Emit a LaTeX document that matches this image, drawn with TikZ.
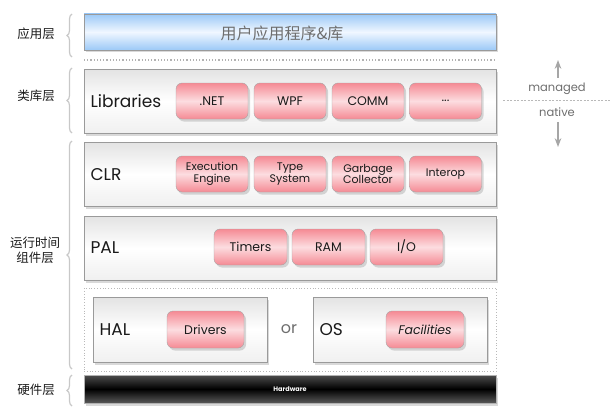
\documentclass[tikz,border=0pt]{standalone}
\usepackage{fontspec}
\setmainfont{Poppins}
\newfontfamily\cjk{Noto Sans CJK SC}
\usetikzlibrary{arrows.meta,positioning,shadows,decorations.pathreplacing,calc}
\definecolor{txt}{HTML}{1A1A1A}
\definecolor{txt2}{HTML}{6E6E6E}
\definecolor{edge}{HTML}{9A9A9A}
\definecolor{pinkA}{HTML}{F58A94}
\definecolor{pinkB}{HTML}{FCDDE0}
\definecolor{blueA}{HTML}{9CC9F7}
\definecolor{blueB}{HTML}{F0F7FF}
\definecolor{bracegray}{HTML}{C8C8C8}

\begin{document}
\begin{tikzpicture}[
  x=1pt, y=-1pt,
  >=Stealth,
  shd/.style={drop shadow={opacity=0.3, shadow xshift=2pt, shadow yshift=-2.5pt}},
  layer/.style={draw=edge, line width=0.8pt, shd, top color=gray!22, bottom color=gray!12, middle color=white, minimum width=412pt, minimum height=64pt, inner sep=0pt},
  pill/.style={draw=gray!70, rounded corners=6pt, shd, top color=pinkA, bottom color=pinkA, middle color=pinkB, minimum width=72pt, minimum height=36pt, align=center, inner sep=1pt, text=txt, font=\fontsize{12.5}{14}\selectfont},
  pill2/.style={pill, font=\fontsize{11}{11.5}\selectfont},
  laytxt/.style={anchor=west, text=txt, font=\fontsize{17}{20}\selectfont},
  zh/.style={text=txt, align=center, font=\cjk\fontsize{12.5}{15}\selectfont},
  brc/.style={draw=bracegray, line width=1.2pt, decorate, decoration={brace, amplitude=5pt}},
  lbl/.style={text=txt2, font=\fontsize{11.5}{13}\selectfont},
  arr/.style={->, line width=1.3pt, color=gray!70},
]
\useasboundingbox (0,0) rectangle (610,412);

% application layer
\node[layer, minimum height=36pt, top color=blueA, bottom color=blueA, middle color=blueB] (app) at (290,32) {};
\node[text=txt2, font=\cjk\fontsize{16}{18}\selectfont] (apptxt) at (282,33) {用户应用程序\&库};
\coordinate (sepL) at (84,60);
\coordinate (sepR) at (494,60);
\draw[gray!60, dotted, line width=1.2pt] (sepL) -- (sepR);

% libraries
\node[layer] (lib) at (290,101) {};
\node[laytxt] (libname) at (87,101) {Libraries};
\node[pill] (net) at (212,101) {.NET};
\node[pill] (wpf) at (290,101) {WPF};
\node[pill] (comm) at (368,101) {COMM};
\node[pill] (more) at (445.5,101) {...};

% clr
\node[layer] (clr) at (290,174) {};
\node[laytxt] (clrname) at (87,175) {CLR};
\node[pill2] (exec) at (212,174) {Execution\\Engine};
\node[pill2] (type) at (290,174) {Type\\System};
\node[pill2] (gc) at (368,174) {Garbage\\Collector};
\node[pill2] (interop) at (445.5,174) {Interop};

% pal
\node[layer] (pal) at (290,248) {};
\node[laytxt] (palname) at (87,248) {PAL};
\node[pill, minimum width=73pt] (timers) at (250.5,247) {Timers};
\node[pill, minimum width=73pt] (ram) at (328.5,247) {RAM};
\node[pill, minimum width=73pt] (io) at (406.5,247) {I/O};

% hal or os
\node[draw=gray!55, dotted, line width=0.8pt, minimum width=412pt, minimum height=83pt, inner sep=0pt] (port) at (290,329.5) {};
\node[layer, minimum width=174pt, minimum height=65pt] (hal) at (180,329.5) {};
\node[laytxt] (halname) at (96,330) {HAL};
\node[pill, minimum width=77pt, minimum height=37pt] (drivers) at (205.5,329.5) {Drivers};
\node[text=txt2, font=\fontsize{16}{18}\selectfont] (or) at (289,329) {or};
\node[layer, minimum width=174pt, minimum height=65pt] (os) at (400,329.5) {};
\node[laytxt] (osname) at (316,330) {OS};
\node[pill, minimum width=78pt, minimum height=37pt, font=\fontsize{12.5}{14}\selectfont\itshape] (fac) at (425,329.5) {Facilities};

% hardware
\node[draw=gray!60, shd, minimum width=412pt, minimum height=28pt, inner sep=0pt, top color=black!70, bottom color=black!65, middle color=black, text=white, font=\fontsize{6.5}{7}\selectfont\bfseries] (hw) at (290,389) {Hardware};

% layer names
\node[zh] (zhapp) at (36,34) {应用层};
\node[zh] (zhlib) at (36,96) {类库层};
\node[zh] (zhrun) at (35,250) {运行时间\\组件层};
\node[zh] (zhhw) at (36,390) {硬件层};
\draw[brc] (72,57) -- (72,14);
\draw[brc] (72,133) -- (72,68);
\draw[brc] (72,369) -- (72,141);
\draw[brc] (72,406) -- (72,375);

% managed / native
\node[lbl] (managed) at (557,89) {managed};
\node[lbl] (native) at (557,112) {native};
\coordinate (mnL) at (503,100);
\coordinate (mnR) at (610,100);
\draw[gray!55, dashed, line width=0.6pt, dash pattern=on 2pt off 1.5pt] (mnL) -- (mnR);
\coordinate (upTip) at (558,60);
\coordinate (downTip) at (558,147);
\draw[arr] (managed.north -| upTip) ++(0,-2) -- (upTip);
\draw[arr] (native.south -| downTip) ++(0,2) -- (downTip);

\end{tikzpicture}
\end{document}
